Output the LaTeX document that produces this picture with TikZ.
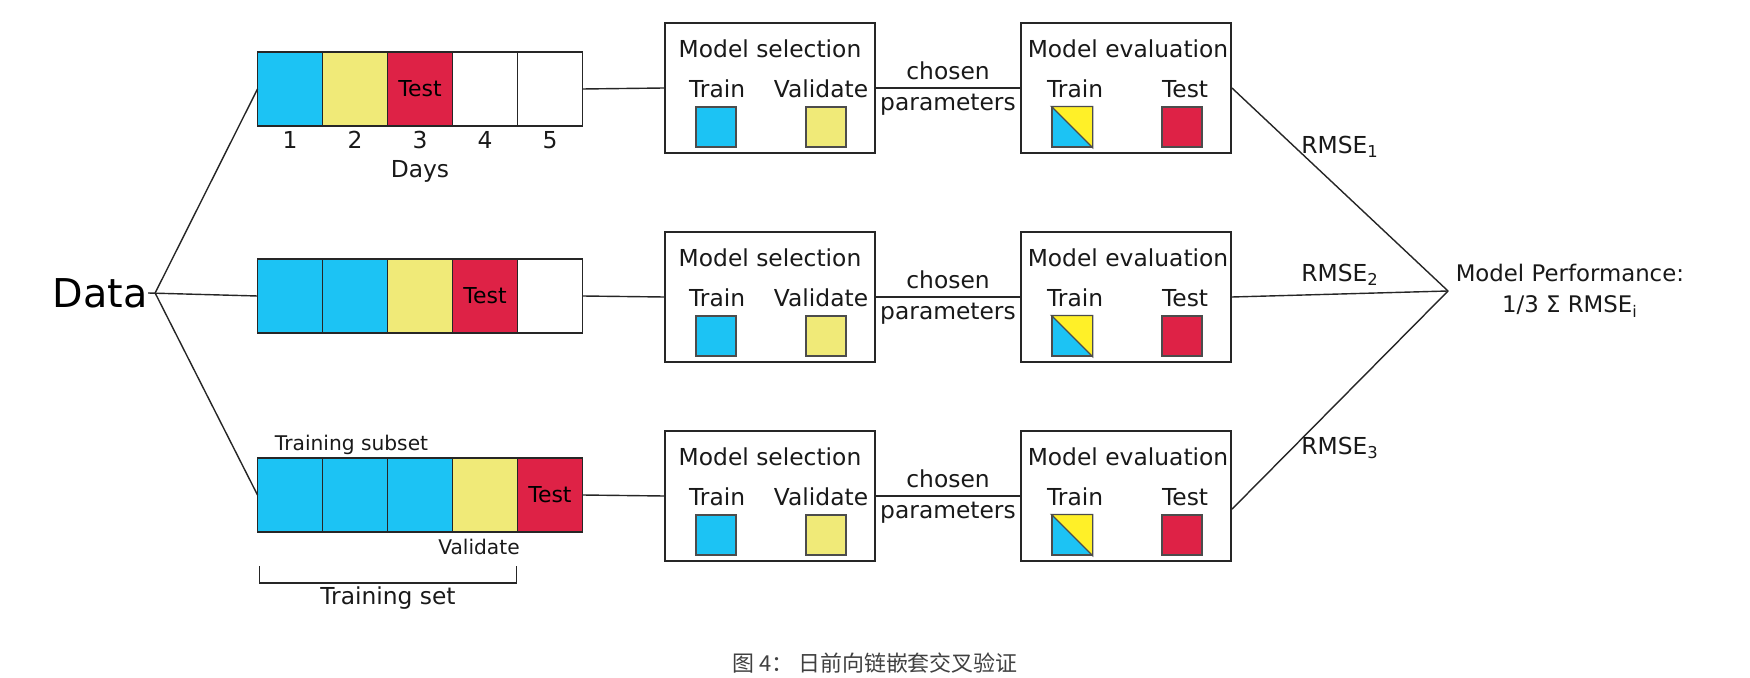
\documentclass[tikz,border=0pt]{standalone}
\usepackage{fontspec}
\setmainfont{DejaVu Sans}
\newfontfamily\cjk{Noto Sans CJK SC}
\usetikzlibrary{positioning,calc}
\definecolor{daycyan}{RGB}{28,195,244}
\definecolor{dayyellow}{RGB}{240,234,120}
\definecolor{dayred}{RGB}{222,34,70}
\definecolor{trainyellow}{RGB}{255,240,40}

\begin{document}
\begin{tikzpicture}[x=0.02cm, y=-0.02cm, line width=0.8pt, draw=black!85,
	day/.style={draw=black!85, minimum width=1.3cm, minimum height=1.48cm, inner sep=0pt, outer sep=0pt, font=\fontsize{12.5}{15}\selectfont},
	stage/.style={draw=black!85, line width=1.1pt, minimum width=4.2cm, minimum height=2.6cm, inner sep=0pt},
	swatch/.style={draw=black!70, line width=0.7pt, minimum size=0.8cm, inner sep=0pt},
	lbl/.style={font=\fontsize{13.3}{16}\selectfont, text=black!90, inner sep=0pt},
	small/.style={font=\fontsize{11.5}{14}\selectfont, text=black!90, inner sep=0pt}]

	\useasboundingbox (0,0) rectangle (1750,678);

	\node [font=\fontsize{22.6}{27}\selectfont, inner sep=0pt] (data) at (100,293) {Data};
	\coordinate [right=4pt of data] (fork);

	% first split
	\node [day, fill=daycyan] (r1c1) at (290,89) {};
	\node [day, fill=dayyellow, right=0pt of r1c1] (r1c2) {};
	\node [day, fill=dayred, right=0pt of r1c2] (r1c3) {Test};
	\node [day, right=0pt of r1c3] (r1c4) {};
	\node [day, right=0pt of r1c4] (r1c5) {};
	\foreach \i in {1,...,5}
		\node [lbl] at ($(r1c\i.south)+(0,14)$) {\i};
	\node [lbl] (days) at ($(r1c3.south)+(0,45)$) {Days};

	% second split
	\node [day, fill=daycyan] (r2c1) at (290,296) {};
	\node [day, fill=daycyan, right=0pt of r2c1] (r2c2) {};
	\node [day, fill=dayyellow, right=0pt of r2c2] (r2c3) {};
	\node [day, fill=dayred, right=0pt of r2c3] (r2c4) {Test};
	\node [day, right=0pt of r2c4] (r2c5) {};

	% third split
	\node [day, fill=daycyan] (r3c1) at (290,495) {};
	\node [day, fill=daycyan, right=0pt of r3c1] (r3c2) {};
	\node [day, fill=daycyan, right=0pt of r3c2] (r3c3) {};
	\node [day, fill=dayyellow, right=0pt of r3c3] (r3c4) {};
	\node [day, fill=dayred, right=0pt of r3c4] (r3c5) {Test};
	\node [small] (subset) at ($(r3c1.north west)+(94,-13)$) {Training subset};
	\node [small] (valid) at ($(r3c4.south)+(-6,15)$) {Validate};
	\coordinate (bl) at ($(r3c1.south west)+(2,34)$);
	\coordinate (br) at ($(r3c4.south east)+(-1,34)$);
	\draw (bl) -- ++(0,17) -| (br);
	\node [lbl] (trainset) at ($(bl)!0.5!(br)+(0,32)$) {Training set};

	\draw (fork) -- (r1c1.west);
	\draw (data.east) -- (r2c1.west);
	\draw (fork) -- (r3c1.west);

	% performance
	\coordinate (join) at (1448,291);
	\node [lbl, right=4pt of join, align=center, font=\fontsize{13}{17.6}\selectfont] (perf) {Model Performance:\\1/3 Σ RMSE\textsubscript{i}};

	\foreach \row/\y in {1/88, 2/297, 3/496} {
		\node [stage] (sel\row) at (770,\y) {};
		\node [lbl] at ($(sel\row.north)+(0,27)$) {Model selection};
		\node [lbl] at ($(sel\row.north west)+(53,67)$) {Train};
		\node [lbl] at ($(sel\row.north west)+(157,67)$) {Validate};
		\node [swatch, fill=daycyan] at ($(sel\row.north west)+(52,105)$) {};
		\node [swatch, fill=dayyellow] at ($(sel\row.north west)+(162,105)$) {};

		\node [stage] (ev\row) at (1126,\y) {};
		\node [lbl] at ($(ev\row.north)+(2,27)$) {Model evaluation};
		\node [lbl] at ($(ev\row.north west)+(55,67)$) {Train};
		\node [lbl] at ($(ev\row.north west)+(165,67)$) {Test};
		\node [swatch, fill=daycyan] (et\row) at ($(ev\row.north west)+(52,105)$) {};
		\filldraw [fill=trainyellow, draw=black!70, line width=0.7pt] (et\row.north west) -- (et\row.north east) -- (et\row.south east) -- cycle;
		\node [swatch, fill=dayred] at ($(ev\row.north west)+(162,105)$) {};

		\draw (r\row c5.east) -- (sel\row.west);
		\draw (sel\row.east) -- node [lbl, above=4.5pt] {chosen} node [lbl, below=3pt] {parameters} (ev\row.west);
	}

	\draw (ev1.east) -- (join);
	\draw (ev2.east) -- (join);
	\draw ($(ev3.south east)!0.4!(ev3.north east)$) -- (join);
	\node [lbl] (rmse1) at (1340,147) {RMSE\textsubscript{1}};
	\node [lbl] (rmse2) at (1340,275) {RMSE\textsubscript{2}};
	\node [lbl] (rmse3) at (1340,448) {RMSE\textsubscript{3}};

	\node [font=\cjk\fontsize{12.5}{15}\selectfont, text=black!75] (caption) at (875,663) {图 4： 日前向链嵌套交叉验证};
\end{tikzpicture}
\end{document}
